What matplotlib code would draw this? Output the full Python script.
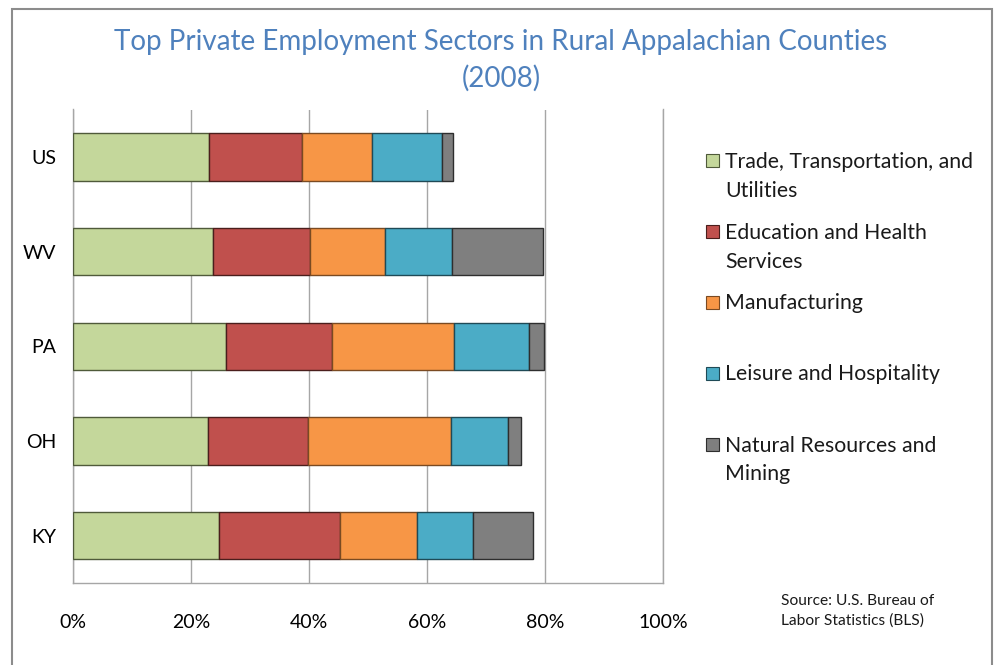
import textwrap
import matplotlib
matplotlib.use("Agg")
import matplotlib.pyplot as plt
from matplotlib.patches import Rectangle
import numpy as np

plt.rcParams['font.family'] = ['Lato', 'DejaVu Sans']

categories = ['US', 'WV', 'PA', 'OH', 'KY']
series_names = ['Trade, Transportation, and Utilities',
                'Education and Health Services',
                'Manufacturing',
                'Leisure and Hospitality',
                'Natural Resources and Mining']
trade = [23.0, 23.7, 25.9, 22.9, 24.7]
education = [15.8, 16.4, 18.0, 16.8, 20.5]
manufacturing = [11.8, 12.8, 20.7, 24.3, 13.1]
leisure = [11.9, 11.3, 12.7, 9.7, 9.4]
natural = [1.8, 15.4, 2.5, 2.2, 10.2]
xticks = [0, 20, 40, 60, 80, 100]
xtick_labels = ['0%', '20%', '40%', '60%', '80%', '100%']
title = 'Top Private Employment Sectors in Rural Appalachian Counties\n(2008)'
source = 'Source: U.S. Bureau of\nLabor Statistics (BLS)'

colors = ['#C4D79B', '#C0504D', '#F79646', '#4BACC6', '#7F7F7F']
edges = ['#4F5A3A', '#4A1E1C', '#7A4A22', '#1F4A56', '#2E2E2E']

W, H = 995, 665
fig = plt.figure(figsize=(W / 100, H / 100), dpi=100)
fig.patch.set_facecolor('white')

# outer chart border
fig.patches.append(Rectangle((11.7 / W, -0.05), (992 - 11.7) / W, 1.05 - 9 / H,
                             transform=fig.transFigure, fill=False,
                             edgecolor='#8C8C8C', linewidth=1.5))

ax = fig.add_axes([73.3 / W, 1 - 583 / H, (663.3 - 73.3) / W, (583 - 109.5) / H])
y = np.arange(len(categories))
data = [trade, education, manufacturing, leisure, natural]
left = np.zeros(len(categories))
for vals, c, ec, name in zip(data, colors, edges, series_names):
    ax.barh(y, vals, left=left, height=0.5, color=c, edgecolor=ec,
            linewidth=1.0, label=name, zorder=3)
    left += np.array(vals)

ax.set_xlim(0, 100)
ax.set_ylim(len(categories) - 0.5, -0.5)
ax.set_yticks(y)
ax.set_yticklabels(categories, fontsize=14)
ax.set_xticks(xticks)
ax.set_xticklabels(xtick_labels, fontsize=14)
ax.tick_params(axis='both', length=0)
ax.tick_params(axis='x', pad=22)
ax.tick_params(axis='y', pad=12.5)
ax.xaxis.grid(True, color='#A6A6A6', linewidth=1.0, zorder=0)
ax.spines['top'].set_visible(False)
for s in ['left', 'bottom', 'right']:
    ax.spines[s].set_color('#A6A6A6')
    ax.spines[s].set_linewidth(1.0)

fig.text(501 / W, 1 - 60 / H, title, ha='center', va='center',
         fontsize=20, color='#4F81BD', linespacing=1.45)

# legend drawn manually
legend_y = [160.7, 231.7, 302, 373, 444]
for name, c, ec, yy in zip(series_names, colors, edges, legend_y):
    fig.patches.append(Rectangle((706 / W, 1 - (yy + 6.5) / H), 13 / W, 13 / H,
                                 transform=fig.transFigure, facecolor=c,
                                 edgecolor=ec, linewidth=0.8))
    for i, line in enumerate(textwrap.wrap(name, 26)):
        fig.text(725 / W, 1 - (yy + 7.5 + i * 28.7) / H, line, ha='left', va='baseline',
                 fontsize=15.3, color='#1A1A1A')

fig.text(780.7 / W, 1 - 611 / H, source, ha='left', va='center',
         fontsize=11.2, color='#1A1A1A', linespacing=1.45)

fig.savefig('out.png', dpi=100)
